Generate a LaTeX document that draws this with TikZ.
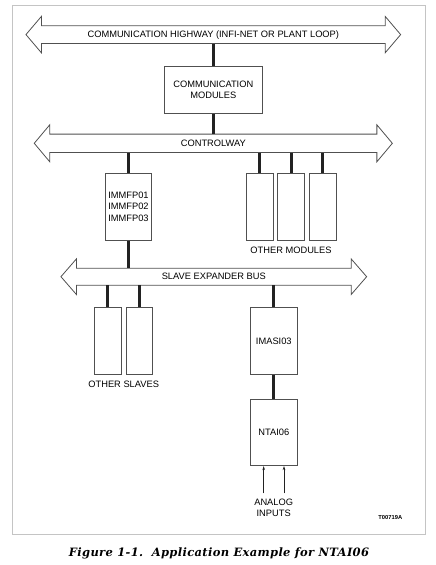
\documentclass[tikz,border=0pt]{standalone}
\usepackage{fontspec}
\setmainfont{Liberation Sans}
\newfontfamily\captionfont[LetterSpace=3]{DejaVu Serif}
\definecolor{framegray}{HTML}{C4C4C4}
\definecolor{boxgray}{HTML}{505050}
\definecolor{inkgray}{HTML}{222222}
\tikzset{
  bus/.style={minimum height=17.5pt, inner sep=0pt, font=\fontsize{9.3}{11}\selectfont},
  busline/.style={draw=boxgray, line width=0.8pt},
  module/.style={draw=boxgray, line width=0.9pt, inner sep=0pt, align=center,
    font=\fontsize{9.3}{11.2}\selectfont},
  slot/.style={module, minimum width=26.7pt, minimum height=66.7pt},
  label/.style={inner sep=0pt, align=center, font=\fontsize{9.3}{10.6}\selectfont},
  link/.style={line width=3pt, inkgray},
  input/.style={line width=0.8pt, inkgray, -{Stealth[length=4pt,width=2.6pt]}}
}
\usetikzlibrary{arrows.meta}
\begin{document}
\begin{tikzpicture}[x=1pt,y=-1pt]
  \useasboundingbox (0,0) rectangle (436,565);
  \draw[framegray, line width=1pt] (12.5,5.7) rectangle (425.5,534);
  % buses
  \node[bus, minimum width=343.3pt] (hw) at (213.3,34.6) {COMMUNICATION HIGHWAY (INFI-NET OR PLANT LOOP)};
  \node[bus, minimum width=326.7pt, minimum height=18pt] (cw) at (213.3,143.3) {CONTROLWAY};
  \node[bus, minimum width=274.3pt, minimum height=16.7pt] (seb) at (213.8,276.7) {SLAVE EXPANDER BUS};
  \foreach \b in {hw,cw,seb} {
    \draw[busline] (\b.north west) -- (\b.north east) -- ([yshift=9.3pt]\b.north east)
      -- ([xshift=15.5pt]\b.east) -- ([yshift=-9.3pt]\b.south east) -- (\b.south east)
      -- (\b.south west) -- ([yshift=-9.3pt]\b.south west) -- ([xshift=-15.5pt]\b.west)
      -- ([yshift=9.3pt]\b.north west) -- cycle;
  }
  % modules
  \node[module, minimum width=98pt, minimum height=47.7pt] (comm) at (213.3,89.8) {COMMUNICATION\\MODULES};
  \node[module, minimum width=46.4pt, minimum height=66.7pt] (mfp) at (128.5,206.7) {IMMFP01\\IMMFP02\\IMMFP03};
  \node[slot] (om1) at (259.7,206.7) {};
  \node[slot] (om2) at (291,206.7) {};
  \node[slot] (om3) at (322.7,206.7) {};
  \node[slot, minimum height=67.4pt] (os1) at (107.8,341) {};
  \node[slot, minimum height=67.4pt] (os2) at (139.3,341) {};
  \node[module, minimum width=46.3pt, minimum height=67.4pt] (asi) at (273.8,341) {IMASI03};
  \node[module, minimum width=46.3pt, minimum height=66.7pt] (nta) at (273.8,432.3) {NTAI06};
  % labels
  \node[label] (omlab) at (291,250.3) {OTHER MODULES};
  \node[label] (oslab) at (123.7,384.7) {OTHER SLAVES};
  \node[label] (ailab) at (273.7,508) {ANALOG\\INPUTS};
  \node[label, font=\bfseries\fontsize{5.8}{6}\selectfont] (dwg) at (390.3,517.7) {T00719A};
  \node[inner sep=0pt, font=\captionfont\bfseries\itshape\fontsize{11.5}{13}\selectfont] (cap) at (219,553)
    {Figure 1-1.\ \ Application Example for NTAI06};
  % connectors
  \draw[link] (hw.south) -- (comm.north);
  \draw[link] (comm.south) -- (cw.north);
  \draw[link] (cw.south -| mfp.north) -- (mfp.north);
  \foreach \m in {om1,om2,om3}
    \draw[link] (cw.south -| \m.north) -- (\m.north);
  \draw[link] (mfp.south) -- (seb.north -| mfp.south);
  \foreach \m in {os1,os2,asi}
    \draw[link] (seb.south -| \m.north) -- (\m.north);
  \draw[link] (asi.south) -- (nta.north);
  \coordinate (in1) at (263.7,493.3);
  \coordinate (in2) at (284,493.3);
  \draw[input] (in1) -- (in1 |- nta.south);
  \draw[input] (in2) -- (in2 |- nta.south);
\end{tikzpicture}
\end{document}
